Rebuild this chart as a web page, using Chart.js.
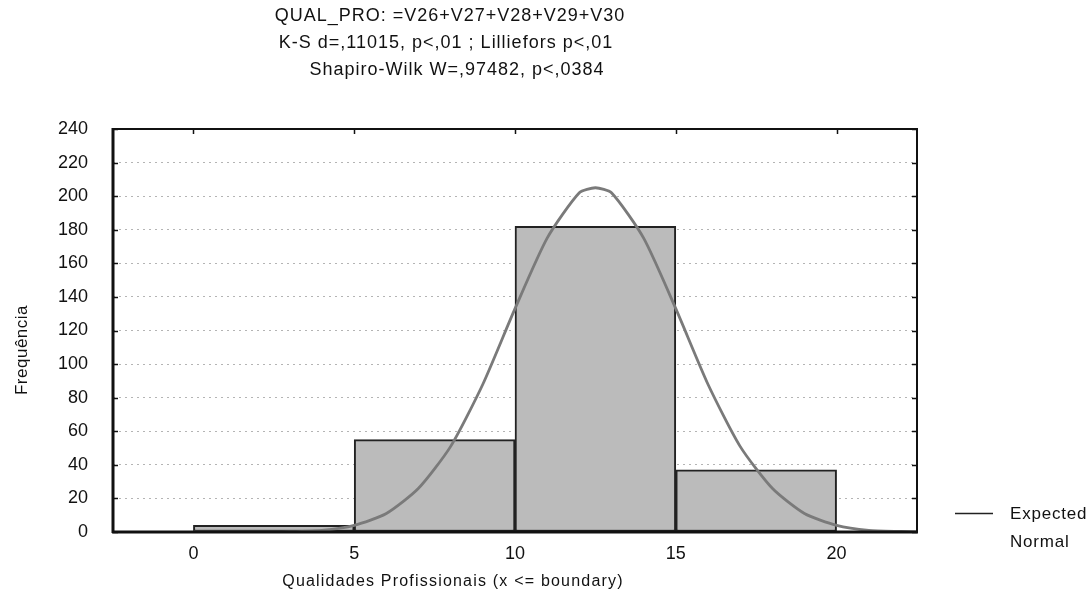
<!DOCTYPE html>
<html><head><meta charset="utf-8">
<script src="https://cdn.jsdelivr.net/npm/chart.js@4.4.0/dist/chart.umd.min.js"></script>
<style>html,body{margin:0;padding:0;background:#fff;}#wrap{position:relative;width:1092px;height:599px;}</style>
</head><body><div id="wrap"><canvas id="c" width="1092" height="599"></canvas></div>
<script>
const titleLines = ["QUAL_PRO: =V26+V27+V28+V29+V30", "K-S d=,11015, p<,01 ; Lilliefors p<,01", "Shapiro-Wilk W=,97482, p<,0384"];
const xTitle = "Qualidades Profissionais (x <= boundary)";
const yTitle = "Frequência";
const legendLines = ["Expected", "Normal"];
const binCenters = [2.5, 7.5, 12.5, 17.5];
const binCounts = [4, 55, 182, 37];
const curveX = [0, 1, 2, 3, 4, 5, 6, 7, 8, 9, 10, 11, 12, 12.5, 13, 14, 15, 16, 17, 18, 19, 20, 21, 22, 22.5];
const curveY = [0, 0, 0, 0.2, 1, 4, 11, 26, 51, 88, 133, 175, 202, 205, 202, 175, 133, 88, 51, 26, 11, 4, 1, 0.3, 0.1];
const xTicks = [0, 5, 10, 15, 20];
const yTicks = [0, 20, 40, 60, 80, 100, 120, 140, 160, 180, 200, 220, 240];

const FONT = "'Liberation Sans', Arial, sans-serif";
const W = 1092, H = 599;
const AREA = {left: 113, top: 129, right: 917, bottom: 532};

function spaced(ctx, px) { if ('letterSpacing' in ctx) ctx.letterSpacing = px + 'px'; }

const decor = {
  id: 'decor',
  afterDatasetsDraw(chart) {
    const ctx = chart.ctx, a = chart.chartArea;
    const xs = chart.scales.x, ys = chart.scales.y;
    ctx.save();
    ctx.strokeStyle = '#111';
    ctx.lineWidth = 1.5;
    ctx.beginPath();
    yTicks.forEach(v => {
      const y = Math.round(ys.getPixelForValue(v)) + 0.5;
      ctx.moveTo(a.left, y); ctx.lineTo(a.left + 5, y);
      ctx.moveTo(a.right, y); ctx.lineTo(a.right - 5, y);
    });
    xTicks.forEach(v => {
      const x = Math.round(xs.getPixelForValue(v)) + 0.5;
      ctx.moveTo(x, a.top); ctx.lineTo(x, a.top + 5);
    });
    ctx.stroke();
    ctx.lineWidth = 2;
    ctx.strokeRect(a.left, a.top, a.right - a.left, a.bottom - a.top);
    ctx.lineWidth = 3;
    ctx.beginPath();
    ctx.moveTo(a.left, a.top - 1); ctx.lineTo(a.left, a.bottom + 1);
    ctx.moveTo(a.left - 1, a.bottom); ctx.lineTo(a.right + 1, a.bottom);
    ctx.stroke();
    ctx.restore();
  },
  afterDraw(chart) {
    const ctx = chart.ctx;
    ctx.save();
    ctx.fillStyle = '#111';
    ctx.textBaseline = 'middle';
    ctx.textAlign = 'center';
    ctx.font = '18px ' + FONT;
    spaced(ctx, 1);
    const tx = [450, 446, 457];
    const ty = [16, 43, 70];
    titleLines.forEach((t, i) => ctx.fillText(t, tx[i], ty[i]));
    ctx.font = '16px ' + FONT;
    spaced(ctx, 1.2);
    ctx.fillText(xTitle, 453, 582);
    ctx.save();
    ctx.translate(22, 350);
    ctx.rotate(-Math.PI / 2);
    spaced(ctx, 0.5);
    ctx.font = '17px ' + FONT;
    ctx.fillText(yTitle, 0, 0);
    ctx.restore();
    ctx.strokeStyle = '#222';
    ctx.lineWidth = 1.5;
    ctx.beginPath();
    ctx.moveTo(955, 513.5); ctx.lineTo(993, 513.5);
    ctx.stroke();
    ctx.textAlign = 'left';
    ctx.font = '17px ' + FONT;
    spaced(ctx, 0.8);
    ctx.fillText(legendLines[0], 1010, 514);
    ctx.fillText(legendLines[1], 1010, 542);
    ctx.restore();
  }
};

new Chart(document.getElementById('c'), {
  type: 'bar',
  data: {
    datasets: [
      {
        type: 'line',
        data: curveX.map((x, i) => ({x: x, y: curveY[i]})),
        borderColor: '#7a7a7a',
        borderWidth: 2.8,
        pointRadius: 0,
        tension: 0.22,
        fill: false,
        order: 0
      },
      {
        type: 'bar',
        data: binCenters.map((x, i) => ({x: x, y: binCounts[i]})),
        backgroundColor: '#bbbbbb',
        borderColor: '#222',
        borderWidth: 2,
        borderSkipped: false,
        barPercentage: 1,
        categoryPercentage: 1,
        grouped: false,
        order: 1
      }
    ]
  },
  options: {
    responsive: false,
    animation: false,
    events: [],
    layout: {padding: {left: 0, top: AREA.top, right: W - AREA.right, bottom: 0}},
    plugins: {legend: {display: false}, tooltip: {enabled: false}, title: {display: false}},
    scales: {
      x: {
        type: 'linear',
        offset: false,
        min: -2.5, max: 22.5,
        afterBuildTicks: s => { s.ticks = xTicks.map(v => ({value: v})); },
        afterFit: s => { s.height = H - AREA.bottom; },
        grid: {display: false, drawTicks: false},
        border: {display: false},
        ticks: {padding: 11, color: '#111', font: {family: FONT, size: 18}, maxRotation: 0}
      },
      y: {
        type: 'linear',
        min: 0, max: 240,
        afterBuildTicks: s => { s.ticks = yTicks.map(v => ({value: v})); },
        afterFit: s => { s.width = AREA.left; },
        grid: {
          drawTicks: false,
          color: ctx => (ctx.tick && (ctx.tick.value === 0 || ctx.tick.value === 240)) ? 'rgba(0,0,0,0)' : '#b4b4b4',
          lineWidth: 1
        },
        border: {display: false, dash: [2, 4]},
        ticks: {padding: 25, color: '#111', font: {family: FONT, size: 18}}
      }
    }
  },
  plugins: [decor]
});
</script></body></html>
